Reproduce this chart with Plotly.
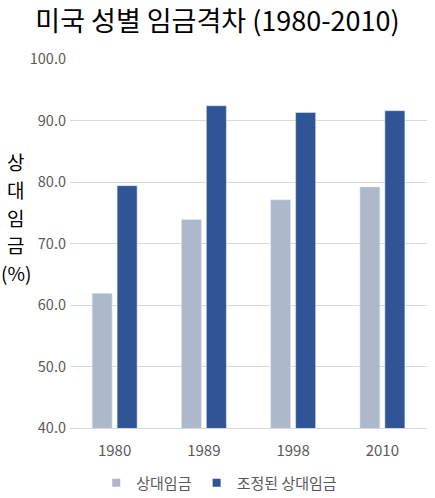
import plotly.graph_objects as go

# données
years = ["1980", "1989", "1998", "2010"]
relative_wage = [61.9, 73.9, 77.1, 79.2]
adjusted_wage = [79.4, 92.4, 91.3, 91.6]
y_ticks = [40, 50, 60, 70, 80, 90, 100]
y_title_parts = ["상", "대", "임", "금", "(%)"]
series_names = ["상대임금", "조정된 상대임금"]
series_colors = ["#ADB9CA", "#2F5597"]

FONT = "Noto Sans CJK KR"

fig = go.Figure()
for name, values, color in zip(series_names, [relative_wage, adjusted_wage], series_colors):
    fig.add_trace(go.Bar(x=years, y=values, name=name, marker_color=color,
                         showlegend=False))
    # petits carrés pour la légende (comme dans Excel)
    fig.add_trace(go.Scatter(x=[None], y=[None], mode="markers", name=name,
                             marker=dict(symbol="square", size=8, color=color)))

# titre de l'axe Y écrit à la verticale, un caractère par ligne
annotations = []
for i, part in enumerate(y_title_parts):
    annotations.append(dict(
        text=part, xref="paper", yref="paper",
        x=-0.152, y=0.721 - i * 0.075, xanchor="center", yanchor="middle",
        showarrow=False,
        font=dict(family=FONT, size=19, color="black")))

fig.update_layout(
    width=435, height=498,
    margin=dict(l=70, r=8, t=59, b=70),
    paper_bgcolor="white", plot_bgcolor="white",
    font=dict(family=FONT, color="#595959", size=14),
    title=dict(text="미국 성별 임금격차 (1980-2010)", x=0.5, xanchor="center",
               y=0.956, yanchor="middle", xref="container", yref="container",
               font=dict(family=FONT, size=27, color="black")),
    barmode="group", bargap=0.44, bargroupgap=0.2,
    showlegend=True,
    legend=dict(orientation="h", xref="container", yref="container",
                x=0.504, xanchor="center", y=0.03, yanchor="middle",
                font=dict(size=15, color="#595959"),
                itemwidth=30, traceorder="normal"),
    xaxis=dict(showgrid=False, showline=True, linecolor="#D9D9D9",
               ticks="", tickfont=dict(size=15), automargin=False,
               ticklabelstandoff=9),
    yaxis=dict(range=[40, 100], tickvals=y_ticks, tickformat=".1f",
               showgrid=True, gridcolor="#D9D9D9", gridwidth=1,
               zeroline=False, ticks="", tickfont=dict(size=14.5),
               automargin=False, ticklabelstandoff=3),
    annotations=annotations,
)

# la page a une marge de 8px par défaut, on la retire
fig.write_html("out.html", config={"displayModeBar": False},
               post_script="document.body.style.margin='0';")
